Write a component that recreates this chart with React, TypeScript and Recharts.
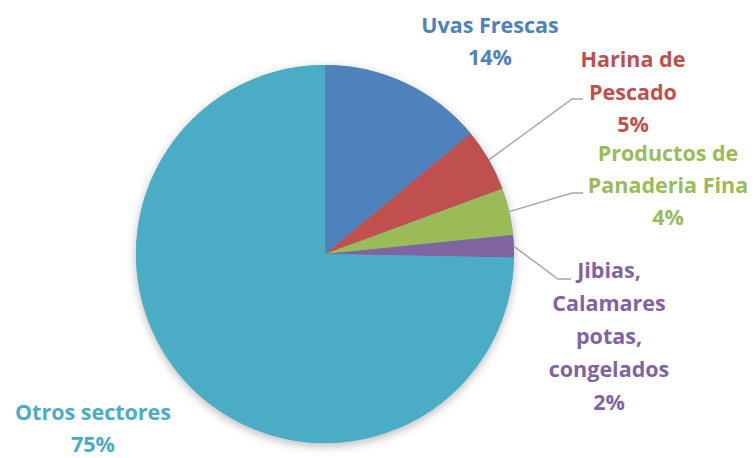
import { PieChart, Pie, Cell } from "recharts";

const categories = ["Uvas Frescas", "Harina de Pescado", "Productos de Panaderia Fina", "Jibias, Calamares potas, congelados", "Otros sectores"];
const shares = [14.0, 5.4, 4.0, 1.9, 74.7];
const colors = ["#4F81BD", "#C0504D", "#9BBB59", "#8064A2", "#4BACC6"];
// how each label is broken into lines
const labelLines = [
  ["Uvas Frescas"],
  ["Harina de", "Pescado"],
  ["Productos de", "Panaderia Fina"],
  ["Jibias,", "Calamares", "potas,", "congelados"],
  ["Otros sectores"],
];

// label placement: text centre x, first baseline, line gap, optional leader elbow
const labelLayout = [
  { x: 490, y: 33, gap: 32, elbow: null },
  { x: 633, y: 67, gap: 32.5, elbow: [572, 99, 583] },
  { x: 668, y: 161, gap: 32, elbow: [572, 193, 583] },
  { x: 609, y: 278, gap: 33, elbow: [558, 279, 571] },
  { x: 93, y: 420, gap: 32, elbow: null },
];

const data = categories.map((name, i) => ({ name, value: shares[i] }));
const RAD = Math.PI / 180;

const renderLabel = (p: any) => {
  const { cx, cy, midAngle, outerRadius, index, percent } = p;
  const l = labelLayout[index];
  const lines = [...labelLines[index], `${Math.round(percent * 100)}%`];
  const sx = cx + outerRadius * Math.cos(-midAngle * RAD);
  const sy = cy + outerRadius * Math.sin(-midAngle * RAD);
  return (
    <g key={`lbl-${index}`}>
      {l.elbow && (
        <polyline
          points={`${sx},${sy} ${l.elbow[0]},${l.elbow[1]} ${l.elbow[2]},${l.elbow[1]}`}
          fill="none"
          stroke="#A6A6A6"
          strokeWidth={1.5}
        />
      )}
      <text
        x={l.x}
        y={l.y}
        textAnchor="middle"
        fill={colors[index]}
        fontFamily="'Open Sans', Lato, sans-serif"
        fontWeight="bold"
        fontSize={21.5}
      >
        {lines.map((t, j) => (
          <tspan key={j} x={l.x} y={l.y + j * l.gap}>{t}</tspan>
        ))}
      </text>
    </g>
  );
};

export default function App() {
  return (
    <div style={{ position: "absolute", left: 0, top: 0, width: 756, height: 458, background: "#fff" }}>
      <style>{`.pie-shadow .recharts-sector { filter: drop-shadow(0px 3px 5px rgba(0,0,0,0.28)); }`}</style>
      <PieChart width={756} height={458} margin={{ top: 0, right: 0, bottom: 0, left: 0 }}>
        <Pie
          className="pie-shadow"
          data={[{ name: "total", value: 100 }]}
          dataKey="value"
          cx={325}
          cy={254}
          outerRadius={189}
          startAngle={90}
          endAngle={-270}
          stroke="none"
          fill="#4BACC6"
          isAnimationActive={false}
        />
        <Pie
          data={data}
          dataKey="value"
          cx={325}
          cy={254}
          outerRadius={189}
          startAngle={90}
          endAngle={-270}
          stroke="none"
          label={renderLabel}
          labelLine={false}
          isAnimationActive={false}
        >
          {data.map((d, i) => (
            <Cell key={d.name} fill={colors[i]} />
          ))}
        </Pie>
      </PieChart>
    </div>
  );
}
